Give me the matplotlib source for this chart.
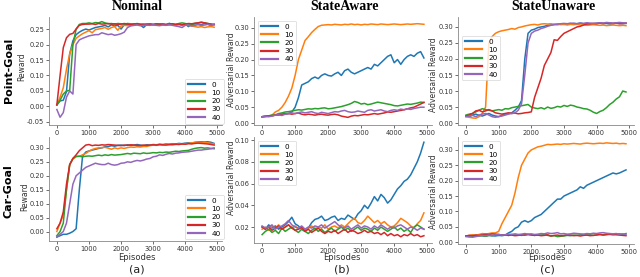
import numpy as np
import matplotlib
matplotlib.use("Agg")
import matplotlib.pyplot as plt

# ── data (every 100 episodes) ─────────────────────────────────────────────
EPISODES = np.arange(0, 5000, 100)
LABELS = ["0", "10", "20", "30", "40"]

# Point-Goal / Nominal
pg_nom_0 = [0.005, 0.018, 0.020, 0.048, 0.170, 0.212, 0.232, 0.240, 0.246, 0.250,
            0.247, 0.251, 0.255, 0.257, 0.259, 0.262, 0.257, 0.264, 0.260, 0.262,
            0.250, 0.264, 0.266, 0.265, 0.267, 0.266, 0.263, 0.255, 0.265, 0.266,
            0.264, 0.267, 0.265, 0.266, 0.264, 0.268, 0.266, 0.265, 0.267, 0.262,
            0.266, 0.258, 0.265, 0.267, 0.266, 0.264, 0.268, 0.266, 0.262, 0.265]
pg_nom_10 = [0.005, 0.030, 0.060, 0.120, 0.170, 0.200, 0.220, 0.228, 0.235, 0.240,
             0.245, 0.238, 0.248, 0.250, 0.252, 0.255, 0.249, 0.255, 0.258, 0.246,
             0.260, 0.262, 0.261, 0.263, 0.262, 0.265, 0.263, 0.264, 0.262, 0.265,
             0.263, 0.264, 0.262, 0.265, 0.264, 0.263, 0.265, 0.262, 0.264, 0.263,
             0.265, 0.262, 0.260, 0.258, 0.256, 0.258, 0.255, 0.257, 0.258, 0.256]
pg_nom_20 = [0.005, 0.020, 0.040, 0.050, 0.052, 0.200, 0.250, 0.265, 0.268, 0.268,
             0.270, 0.268, 0.271, 0.270, 0.274, 0.270, 0.267, 0.268, 0.266, 0.268,
             0.267, 0.266, 0.268, 0.267, 0.265, 0.268, 0.266, 0.265, 0.267, 0.266,
             0.265, 0.264, 0.266, 0.267, 0.265, 0.268, 0.266, 0.264, 0.268, 0.270,
             0.268, 0.266, 0.264, 0.268, 0.270, 0.272, 0.270, 0.268, 0.266, 0.265]
pg_nom_30 = [0.005, 0.100, 0.190, 0.222, 0.233, 0.236, 0.250, 0.262, 0.265, 0.266,
             0.266, 0.267, 0.265, 0.268, 0.266, 0.267, 0.268, 0.266, 0.267, 0.265,
             0.266, 0.268, 0.266, 0.264, 0.266, 0.267, 0.265, 0.266, 0.264, 0.266,
             0.265, 0.267, 0.266, 0.265, 0.264, 0.266, 0.267, 0.265, 0.266, 0.264,
             0.266, 0.268, 0.267, 0.269, 0.270, 0.272, 0.270, 0.268, 0.266, 0.264]
pg_nom_40 = [-0.010, -0.035, -0.020, 0.030, 0.050, 0.040, 0.200, 0.215, 0.220, 0.224,
             0.228, 0.230, 0.232, 0.232, 0.238, 0.235, 0.232, 0.234, 0.230, 0.232,
             0.235, 0.240, 0.255, 0.260, 0.262, 0.263, 0.261, 0.262, 0.263, 0.262,
             0.264, 0.262, 0.261, 0.263, 0.262, 0.264, 0.262, 0.260, 0.258, 0.255,
             0.262, 0.263, 0.260, 0.262, 0.264, 0.262, 0.263, 0.265, 0.262, 0.266]

# Car-Goal / Nominal
cg_nom_0 = [-0.020, -0.015, -0.010, -0.010, -0.006, 0.000, 0.010, 0.150, 0.270, 0.285,
            0.289, 0.292, 0.295, 0.298, 0.300, 0.304, 0.305, 0.308, 0.306, 0.309,
            0.310, 0.308, 0.311, 0.309, 0.310, 0.312, 0.310, 0.308, 0.311, 0.310,
            0.312, 0.311, 0.313, 0.312, 0.314, 0.313, 0.315, 0.314, 0.316, 0.315,
            0.317, 0.318, 0.317, 0.320, 0.321, 0.322, 0.321, 0.322, 0.320, 0.316]
cg_nom_10 = [0.000, 0.030, 0.060, 0.150, 0.240, 0.260, 0.268, 0.270, 0.275, 0.280,
             0.288, 0.294, 0.298, 0.300, 0.301, 0.302, 0.299, 0.295, 0.300, 0.297,
             0.300, 0.298, 0.301, 0.303, 0.302, 0.304, 0.303, 0.305, 0.305, 0.308,
             0.310, 0.309, 0.311, 0.310, 0.312, 0.311, 0.313, 0.312, 0.314, 0.313,
             0.315, 0.316, 0.318, 0.319, 0.320, 0.320, 0.319, 0.318, 0.316, 0.314]
cg_nom_20 = [-0.015, 0.000, 0.030, 0.150, 0.240, 0.262, 0.270, 0.270, 0.268, 0.270,
             0.271, 0.270, 0.272, 0.274, 0.272, 0.275, 0.273, 0.276, 0.274, 0.275,
             0.276, 0.278, 0.280, 0.278, 0.281, 0.280, 0.279, 0.282, 0.280, 0.281,
             0.283, 0.282, 0.284, 0.283, 0.285, 0.284, 0.286, 0.288, 0.287, 0.289,
             0.290, 0.291, 0.295, 0.298, 0.300, 0.301, 0.299, 0.300, 0.298, 0.297]
cg_nom_30 = [0.010, 0.030, 0.070, 0.170, 0.240, 0.262, 0.275, 0.290, 0.300, 0.310,
             0.312, 0.308, 0.310, 0.309, 0.311, 0.310, 0.312, 0.311, 0.310, 0.309,
             0.308, 0.310, 0.309, 0.311, 0.310, 0.309, 0.308, 0.310, 0.309, 0.310,
             0.311, 0.310, 0.312, 0.311, 0.310, 0.312, 0.311, 0.313, 0.312, 0.314,
             0.313, 0.315, 0.314, 0.316, 0.317, 0.316, 0.315, 0.314, 0.312, 0.310]
cg_nom_40 = [-0.020, -0.010, 0.000, 0.030, 0.100, 0.170, 0.200, 0.210, 0.220, 0.230,
             0.235, 0.240, 0.245, 0.242, 0.240, 0.240, 0.245, 0.240, 0.238, 0.240,
             0.245, 0.246, 0.250, 0.248, 0.252, 0.255, 0.253, 0.256, 0.260, 0.262,
             0.268, 0.270, 0.275, 0.273, 0.277, 0.280, 0.278, 0.281, 0.282, 0.284,
             0.285, 0.286, 0.288, 0.290, 0.292, 0.292, 0.294, 0.295, 0.297, 0.300]

# Point-Goal / StateAware
pg_aw_0 = [0.020, 0.021, 0.022, 0.024, 0.025, 0.026, 0.028, 0.030, 0.030, 0.035,
           0.050, 0.080, 0.120, 0.125, 0.130, 0.140, 0.145, 0.140, 0.150, 0.155,
           0.150, 0.148, 0.155, 0.160, 0.150, 0.165, 0.170, 0.160, 0.155, 0.160,
           0.165, 0.170, 0.175, 0.170, 0.185, 0.180, 0.190, 0.200, 0.210, 0.215,
           0.190, 0.200, 0.185, 0.200, 0.210, 0.215, 0.210, 0.220, 0.225, 0.205]
pg_aw_10 = [0.020, 0.021, 0.022, 0.025, 0.035, 0.040, 0.050, 0.065, 0.085, 0.110,
            0.150, 0.200, 0.230, 0.260, 0.272, 0.285, 0.295, 0.304, 0.308, 0.309,
            0.310, 0.309, 0.311, 0.310, 0.309, 0.311, 0.310, 0.312, 0.310, 0.311,
            0.309, 0.311, 0.310, 0.312, 0.311, 0.310, 0.312, 0.311, 0.310, 0.311,
            0.312, 0.311, 0.310, 0.311, 0.312, 0.311, 0.312, 0.313, 0.312, 0.311]
pg_aw_20 = [0.020, 0.022, 0.023, 0.025, 0.026, 0.030, 0.032, 0.035, 0.036, 0.038,
            0.040, 0.042, 0.041, 0.043, 0.045, 0.044, 0.046, 0.045, 0.047, 0.048,
            0.045, 0.046, 0.048, 0.050, 0.052, 0.055, 0.058, 0.062, 0.068, 0.065,
            0.060, 0.062, 0.058, 0.060, 0.063, 0.066, 0.064, 0.062, 0.060, 0.058,
            0.055, 0.054, 0.056, 0.058, 0.060, 0.059, 0.061, 0.063, 0.066, 0.065]
pg_aw_30 = [0.020, 0.021, 0.022, 0.023, 0.025, 0.026, 0.027, 0.028, 0.030, 0.028,
            0.030, 0.032, 0.028, 0.026, 0.028, 0.027, 0.025, 0.027, 0.028, 0.026,
            0.025, 0.027, 0.028, 0.026, 0.022, 0.020, 0.018, 0.022, 0.024, 0.023,
            0.025, 0.027, 0.026, 0.028, 0.030, 0.028, 0.030, 0.032, 0.035, 0.034,
            0.036, 0.038, 0.040, 0.042, 0.045, 0.048, 0.050, 0.055, 0.060, 0.065]
pg_aw_40 = [0.020, 0.021, 0.020, 0.022, 0.025, 0.026, 0.024, 0.028, 0.030, 0.032,
            0.030, 0.033, 0.035, 0.032, 0.034, 0.036, 0.032, 0.030, 0.034, 0.032,
            0.030, 0.033, 0.036, 0.035, 0.038, 0.040, 0.036, 0.034, 0.035, 0.038,
            0.036, 0.034, 0.040, 0.042, 0.038, 0.040, 0.042, 0.038, 0.036, 0.040,
            0.042, 0.040, 0.044, 0.042, 0.045, 0.043, 0.046, 0.048, 0.050, 0.050]

# Car-Goal / StateAware
cg_aw_0 = [0.020, 0.018, 0.022, 0.019, 0.021, 0.018, 0.020, 0.022, 0.025, 0.029,
           0.023, 0.021, 0.018, 0.016, 0.019, 0.024, 0.027, 0.028, 0.030, 0.026,
           0.027, 0.029, 0.030, 0.026, 0.028, 0.027, 0.031, 0.029, 0.027, 0.032,
           0.035, 0.040, 0.037, 0.042, 0.048, 0.044, 0.050, 0.047, 0.042, 0.045,
           0.050, 0.055, 0.058, 0.062, 0.064, 0.068, 0.074, 0.080, 0.088, 0.098]
cg_aw_10 = [0.018, 0.020, 0.017, 0.021, 0.019, 0.022, 0.018, 0.020, 0.022, 0.019,
            0.021, 0.018, 0.020, 0.017, 0.019, 0.021, 0.018, 0.020, 0.019, 0.022,
            0.018, 0.020, 0.021, 0.019, 0.022, 0.020, 0.023, 0.026, 0.028, 0.024,
            0.023, 0.026, 0.030, 0.027, 0.024, 0.026, 0.023, 0.025, 0.022, 0.020,
            0.021, 0.024, 0.028, 0.026, 0.024, 0.021, 0.019, 0.023, 0.026, 0.033]
cg_aw_20 = [0.013, 0.016, 0.018, 0.015, 0.017, 0.014, 0.019, 0.016, 0.018, 0.020,
            0.017, 0.015, 0.018, 0.016, 0.014, 0.017, 0.019, 0.016, 0.018, 0.015,
            0.017, 0.019, 0.016, 0.018, 0.020, 0.017, 0.019, 0.016, 0.018, 0.020,
            0.017, 0.019, 0.018, 0.016, 0.019, 0.017, 0.020, 0.018, 0.016, 0.018,
            0.020, 0.017, 0.019, 0.016, 0.018, 0.015, 0.020, 0.022, 0.020, 0.018]
cg_aw_30 = [0.020, 0.018, 0.020, 0.017, 0.019, 0.021, 0.018, 0.020, 0.022, 0.019,
            0.017, 0.018, 0.020, 0.016, 0.018, 0.015, 0.017, 0.019, 0.016, 0.014,
            0.016, 0.015, 0.017, 0.014, 0.016, 0.018, 0.015, 0.017, 0.016, 0.014,
            0.015, 0.017, 0.015, 0.016, 0.014, 0.015, 0.013, 0.015, 0.012, 0.014,
            0.012, 0.013, 0.011, 0.013, 0.012, 0.014, 0.012, 0.013, 0.011, 0.012]
cg_aw_40 = [0.021, 0.019, 0.020, 0.022, 0.018, 0.020, 0.021, 0.023, 0.026, 0.022,
            0.020, 0.019, 0.021, 0.018, 0.020, 0.019, 0.021, 0.020, 0.022, 0.019,
            0.021, 0.023, 0.025, 0.022, 0.020, 0.019, 0.021, 0.018, 0.020, 0.022,
            0.019, 0.021, 0.020, 0.018, 0.021, 0.019, 0.022, 0.020, 0.018, 0.020,
            0.019, 0.021, 0.022, 0.020, 0.018, 0.020, 0.019, 0.017, 0.019, 0.018]

# Point-Goal / StateUnaware
pg_un_0 = [0.022, 0.020, 0.025, 0.028, 0.024, 0.022, 0.026, 0.030, 0.025, 0.022,
           0.020, 0.024, 0.028, 0.030, 0.032, 0.040, 0.050, 0.070, 0.200, 0.280,
           0.290, 0.293, 0.298, 0.300, 0.302, 0.305, 0.306, 0.308, 0.307, 0.309,
           0.308, 0.310, 0.309, 0.311, 0.310, 0.312, 0.310, 0.311, 0.309, 0.310,
           0.311, 0.312, 0.310, 0.311, 0.309, 0.310, 0.312, 0.311, 0.310, 0.311]
pg_un_10 = [0.020, 0.018, 0.016, 0.015, 0.020, 0.030, 0.050, 0.250, 0.270, 0.280,
            0.285, 0.288, 0.290, 0.292, 0.295, 0.293, 0.298, 0.300, 0.303, 0.305,
            0.307, 0.308, 0.306, 0.309, 0.310, 0.309, 0.310, 0.308, 0.309, 0.307,
            0.308, 0.306, 0.308, 0.307, 0.308, 0.306, 0.307, 0.305, 0.306, 0.307,
            0.306, 0.305, 0.306, 0.304, 0.305, 0.306, 0.305, 0.304, 0.305, 0.304]
pg_un_20 = [0.025, 0.028, 0.030, 0.035, 0.040, 0.045, 0.042, 0.040, 0.038, 0.040,
            0.042, 0.040, 0.045, 0.044, 0.048, 0.050, 0.052, 0.054, 0.056, 0.058,
            0.050, 0.047, 0.045, 0.048, 0.044, 0.050, 0.046, 0.048, 0.052, 0.050,
            0.055, 0.052, 0.056, 0.054, 0.050, 0.048, 0.045, 0.044, 0.040, 0.034,
            0.030, 0.036, 0.040, 0.048, 0.058, 0.065, 0.075, 0.082, 0.100, 0.097]
pg_un_30 = [0.022, 0.025, 0.030, 0.038, 0.040, 0.035, 0.038, 0.042, 0.038, 0.032,
            0.030, 0.028, 0.030, 0.032, 0.030, 0.031, 0.029, 0.030, 0.032, 0.033,
            0.035, 0.080, 0.110, 0.140, 0.180, 0.200, 0.220, 0.260, 0.258, 0.270,
            0.280, 0.285, 0.290, 0.295, 0.300, 0.302, 0.306, 0.309, 0.310, 0.311,
            0.310, 0.312, 0.311, 0.313, 0.312, 0.311, 0.312, 0.310, 0.311, 0.312]
pg_un_40 = [0.020, 0.022, 0.024, 0.020, 0.025, 0.028, 0.030, 0.025, 0.020, 0.018,
            0.020, 0.022, 0.025, 0.028, 0.030, 0.032, 0.040, 0.060, 0.150, 0.250,
            0.280, 0.287, 0.290, 0.295, 0.298, 0.302, 0.305, 0.307, 0.309, 0.310,
            0.311, 0.310, 0.312, 0.311, 0.310, 0.312, 0.311, 0.313, 0.312, 0.311,
            0.312, 0.313, 0.312, 0.314, 0.313, 0.312, 0.313, 0.314, 0.313, 0.312]

# Car-Goal / StateUnaware
cg_un_0 = [0.020, 0.021, 0.019, 0.020, 0.022, 0.021, 0.020, 0.022, 0.021, 0.020,
           0.022, 0.021, 0.023, 0.030, 0.035, 0.045, 0.050, 0.065, 0.070, 0.065,
           0.070, 0.080, 0.085, 0.090, 0.100, 0.110, 0.120, 0.130, 0.140, 0.140,
           0.150, 0.155, 0.160, 0.165, 0.170, 0.180, 0.175, 0.185, 0.190, 0.195,
           0.200, 0.205, 0.210, 0.215, 0.220, 0.225, 0.222, 0.225, 0.230, 0.235]
cg_un_10 = [0.020, 0.022, 0.024, 0.022, 0.025, 0.028, 0.026, 0.028, 0.030, 0.030,
            0.035, 0.060, 0.080, 0.100, 0.120, 0.160, 0.210, 0.250, 0.270, 0.290,
            0.300, 0.305, 0.310, 0.312, 0.315, 0.318, 0.317, 0.318, 0.319, 0.318,
            0.320, 0.319, 0.320, 0.321, 0.320, 0.319, 0.321, 0.322, 0.321, 0.320,
            0.321, 0.322, 0.321, 0.323, 0.322, 0.321, 0.322, 0.320, 0.321, 0.320]
cg_un_20 = [0.020, 0.018, 0.020, 0.022, 0.020, 0.021, 0.019, 0.022, 0.021, 0.023,
            0.022, 0.024, 0.023, 0.022, 0.025, 0.023, 0.024, 0.022, 0.024, 0.025,
            0.023, 0.022, 0.024, 0.023, 0.025, 0.022, 0.020, 0.021, 0.018, 0.019,
            0.020, 0.022, 0.021, 0.023, 0.022, 0.024, 0.025, 0.023, 0.024, 0.022,
            0.023, 0.025, 0.024, 0.026, 0.025, 0.024, 0.026, 0.027, 0.025, 0.028]
cg_un_30 = [0.020, 0.022, 0.021, 0.023, 0.022, 0.024, 0.026, 0.025, 0.027, 0.026,
            0.025, 0.023, 0.024, 0.022, 0.023, 0.021, 0.022, 0.024, 0.023, 0.025,
            0.024, 0.022, 0.023, 0.021, 0.022, 0.024, 0.020, 0.022, 0.023, 0.021,
            0.022, 0.024, 0.023, 0.021, 0.022, 0.020, 0.022, 0.023, 0.021, 0.022,
            0.024, 0.025, 0.023, 0.024, 0.026, 0.025, 0.024, 0.023, 0.022, 0.021]
cg_un_40 = [0.018, 0.017, 0.016, 0.018, 0.020, 0.022, 0.021, 0.023, 0.022, 0.024,
            0.025, 0.023, 0.024, 0.026, 0.025, 0.027, 0.025, 0.026, 0.028, 0.026,
            0.027, 0.025, 0.026, 0.028, 0.027, 0.030, 0.028, 0.029, 0.031, 0.027,
            0.028, 0.026, 0.027, 0.029, 0.028, 0.027, 0.026, 0.028, 0.027, 0.029,
            0.028, 0.030, 0.031, 0.029, 0.028, 0.027, 0.028, 0.026, 0.027, 0.025]

# ── layout (pixel boxes: left, top, right, bottom) ────────────────────────
W, H = 640, 277
fig = plt.figure(figsize=(W / 100, H / 100), dpi=100)
COLORS = ["#1f77b4", "#ff7f0e", "#2ca02c", "#d62728", "#9467bd"]
TICK_FS = 4.8


def px_axes(l, t, r, b):
    return fig.add_axes([l / W, 1 - b / H, (r - l) / W, (b - t) / H])


def panel(box, series, ylim, yticks, legend_loc, legend_anchor=None):
    ax = px_axes(*box)
    for ys, c, lab in zip(series, COLORS, LABELS):
        ax.plot(EPISODES, ys, color=c, lw=1.1, label=lab)
    ax.set_xlim(-245, 5145)
    ax.set_ylim(*ylim)
    ax.set_xticks([0, 1000, 2000, 3000, 4000, 5000])
    ax.set_yticks(yticks)
    ax.set_yticklabels(["%.2f" % v for v in yticks])
    ax.tick_params(labelsize=TICK_FS, length=2, width=0.5, pad=1.5,
                   colors="#333333")
    for s in ("top", "right"):
        ax.spines[s].set_visible(False)
    for s in ("left", "bottom"):
        ax.spines[s].set_color("#888888")
        ax.spines[s].set_linewidth(0.6)
    kw = dict(fontsize=5.2, frameon=True, handlelength=2.4, handletextpad=0.9,
              borderpad=0.4, labelspacing=0.3, fancybox=True)
    if legend_anchor is not None:
        leg = ax.legend(loc=legend_loc, bbox_to_anchor=legend_anchor, **kw)
    else:
        leg = ax.legend(loc=legend_loc, **kw)
    leg.get_frame().set_linewidth(0.5)
    for ln in leg.get_lines():
        ln.set_linewidth(1.6)
    return ax


yt_a1 = [-0.05, 0.0, 0.05, 0.10, 0.15, 0.20, 0.25]
yt_30 = [0.0, 0.05, 0.10, 0.15, 0.20, 0.25, 0.30]
yt_b2 = [0.02, 0.04, 0.06, 0.08, 0.10]

panel((49, 17, 222, 125), [pg_nom_0, pg_nom_10, pg_nom_20, pg_nom_30, pg_nom_40],
      (-0.06, 0.289), yt_a1, "lower right", (1.03, -0.02))
panel((49, 137, 222, 241), [cg_nom_0, cg_nom_10, cg_nom_20, cg_nom_30, cg_nom_40],
      (-0.034, 0.339), yt_30, "lower right", (1.03, -0.02))
panel((254, 17, 432, 125), [pg_aw_0, pg_aw_10, pg_aw_20, pg_aw_30, pg_aw_40],
      (-0.006, 0.334), yt_30, "upper left")
panel((254, 137, 432, 243), [cg_aw_0, cg_aw_10, cg_aw_20, cg_aw_30, cg_aw_40],
      (0.0053, 0.1028), yt_b2, "upper left")
panel((458, 17, 634, 125), [pg_un_0, pg_un_10, pg_un_20, pg_un_30, pg_un_40],
      (-0.006, 0.331), yt_30, "center left", (0.0, 0.62))
panel((458, 137, 634, 244), [cg_un_0, cg_un_10, cg_un_20, cg_un_30, cg_un_40],
      (-0.006, 0.342), yt_30, "upper left")


def ftext(x, y, s, **kw):
    fig.text(x / W, 1 - y / H, s, **kw)


SERIF = ["Liberation Serif", "DejaVu Serif"]
for x, s in [(137, "Nominal"), (345, "StateAware"), (553, "StateUnaware")]:
    ftext(x, 7, s, fontsize=10, fontweight="bold", family=SERIF,
          ha="center", va="center")

ftext(9, 70, "Point-Goal", fontsize=8, fontweight="bold", rotation=90,
      ha="center", va="center")
ftext(9, 191, "Car-Goal", fontsize=8, fontweight="bold", rotation=90,
      ha="center", va="center")
ftext(22, 67, "Reward", fontsize=5.5, rotation=90, ha="center", va="center",
      color="#333333")
ftext(25, 197, "Reward", fontsize=5.5, rotation=90, ha="center", va="center",
      color="#333333")
for x, y in [(231, 70), (231, 178), (433, 75), (433, 192)]:
    ftext(x, y, "Adversarial Reward", fontsize=5.5, rotation=90, ha="center",
          va="center", color="#333333")

for x, lab in [(137, "(a)"), (342, "(b)"), (547, "(c)")]:
    ftext(x, 258, "Episodes", fontsize=6, ha="center", va="center",
          color="#333333")
    ftext(x, 270, lab, fontsize=8, ha="center", va="center", color="#222222")

fig.savefig("out.png", dpi=100, facecolor="white")
